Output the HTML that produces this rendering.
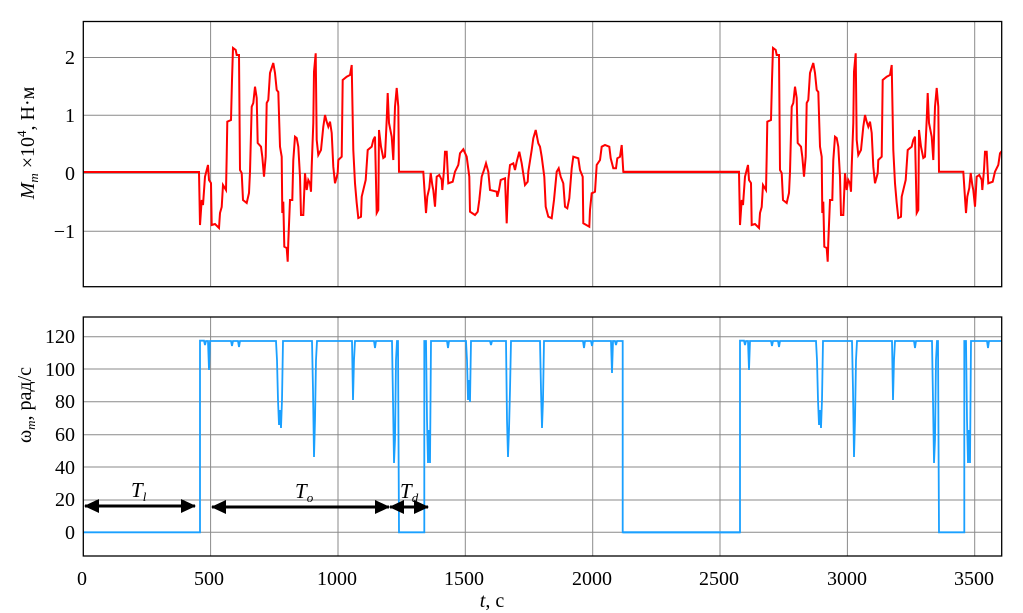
<!DOCTYPE html>
<html><head><meta charset="utf-8"><style>
html,body{margin:0;padding:0;background:#fff;}
svg{display:block;font-family:"Liberation Serif",serif;}
</style></head><body>
<svg width="1023" height="613" viewBox="0 0 1023 613" xmlns="http://www.w3.org/2000/svg">
<defs>
<clipPath id="c1"><rect x="83.3" y="21.5" width="918.4" height="265.2"/></clipPath>
<clipPath id="c2"><rect x="83.3" y="317" width="918.4" height="239"/></clipPath>
<marker id="ah" markerWidth="16" markerHeight="16" refX="14" refY="8" orient="auto-start-reverse" markerUnits="userSpaceOnUse"><path d="M0,1 L15,8 L0,15 z" fill="#000"/></marker>
</defs>
<g stroke="#8a8a8a" stroke-width="1">
<line x1="210.6" y1="21.5" x2="210.6" y2="286.7"/><line x1="338" y1="21.5" x2="338" y2="286.7"/><line x1="465.3" y1="21.5" x2="465.3" y2="286.7"/><line x1="592.7" y1="21.5" x2="592.7" y2="286.7"/><line x1="720" y1="21.5" x2="720" y2="286.7"/><line x1="847.4" y1="21.5" x2="847.4" y2="286.7"/><line x1="974.7" y1="21.5" x2="974.7" y2="286.7"/>
<line x1="83.3" y1="57.5" x2="1001.7" y2="57.5"/><line x1="83.3" y1="115.3" x2="1001.7" y2="115.3"/><line x1="83.3" y1="173.3" x2="1001.7" y2="173.3"/><line x1="83.3" y1="231.3" x2="1001.7" y2="231.3"/>
<line x1="210.6" y1="317" x2="210.6" y2="556"/><line x1="338" y1="317" x2="338" y2="556"/><line x1="465.3" y1="317" x2="465.3" y2="556"/><line x1="592.7" y1="317" x2="592.7" y2="556"/><line x1="720" y1="317" x2="720" y2="556"/><line x1="847.4" y1="317" x2="847.4" y2="556"/><line x1="974.7" y1="317" x2="974.7" y2="556"/>
<line x1="83.3" y1="336.7" x2="1001.7" y2="336.7"/><line x1="83.3" y1="369" x2="1001.7" y2="369"/><line x1="83.3" y1="401.7" x2="1001.7" y2="401.7"/><line x1="83.3" y1="434.7" x2="1001.7" y2="434.7"/><line x1="83.3" y1="467" x2="1001.7" y2="467"/><line x1="83.3" y1="500" x2="1001.7" y2="500"/><line x1="83.3" y1="532.3" x2="1001.7" y2="532.3"/>
</g>
<g clip-path="url(#c1)" fill="none" stroke="#ff0000" stroke-width="2" stroke-linejoin="miter">
<path id="red" d="M83,172 L199,172 200,225 201.7,200 203,205 205,176.7 208,165 209,180 211,183 211.7,225 215,224 219,228 220,213 221.7,207 223,185 226,190 226.7,156.7 227.3,121.7 231,120 232,80 233,48 235.7,50 236.7,55 239,55 240,170 241.7,173 243,200 246.7,203 249,193 250,171.7 251.7,106.7 253.3,103 255,86.7 256.7,98 257.7,143 261,146.7 262.3,156.7 264,176.7 265.7,156.7 266.7,103 268.3,100 270,73 273.3,63 275,73 276.7,90 278.3,92 280,146.7 281.7,156.7 282.3,213 283.3,201.7 284.3,246.7 286.7,248 287.7,261.7 288.3,241.7 290,200 292.3,200 293.3,160 295,136.7 296.7,138 298.3,146.7 300,176.7 301,215 303.3,215 305,173.3 306.7,190 308.3,180 310,183.3 311,191.7 311.7,166.7 313.3,123 314,71.7 315.7,53.3 316.7,140 318.3,155 321,150 323.3,126.7 325,115 326.7,121.7 328.3,126.7 330,121.7 331.7,133 333.3,166.7 335,183.3 337.7,173.3 338.3,160 341.7,156.7 342.7,80 346.7,76.7 350,75 351.7,65 353.3,150 355,183.3 356.7,203 358.3,218 361,216.7 361.7,196.7 365.7,180 367.7,150 371.7,146.7 373.3,140 375,136.7 376.7,213 378.3,210 379,130 381,146.7 383.3,158 385,156.7 386.7,120 387.7,93 389,123 391.7,136.7 393.3,160 395,106.7 396.7,88 398.3,106.7 399,171.7 423.3,171.7 425,198 426,213 427.3,196.7 429.3,188 430.7,173 432.3,185 433.3,190 435,206.7 436.7,176.7 439.3,175 441.7,180 442.3,190 444,170 445,151.7 446.7,151.7 448.3,183.3 452.7,181.7 455,171.7 458.3,165 460,153.3 463.3,149.3 466.7,156.7 469.3,176.7 470,211.7 475,215 477.7,211.7 479.3,200 481.7,176.7 484,170 486,163.3 488.3,171.7 490,190 496.7,191.7 497.3,196.7 499,190 500.7,180 505,178.3 506.7,223.3 508.3,180 510,165 513.3,163.3 515,170 516.7,161.7 519.3,151.7 521.7,163.3 525,185 527.7,181.7 528.3,171.7 531.7,150 533.3,138.3 535.7,130 538.3,143.3 540,146.7 541.7,156.7 544.3,176.7 545.7,206.7 548.3,216.7 551.7,218.3 554,200 556.7,171.7 558.7,168.3 560.7,176.7 563.3,183.3 565,206.7 567.3,208.3 569.3,198.3 571.7,168.3 573.3,156.7 578.3,158.3 580,170 582.7,176.7 583.3,223.3 589.3,226.7 590,210 591.7,193.3 595,191.7 596.7,165 600,160 601.7,146.7 605,145 609.3,146.7 610.7,158.3 613.3,168.3 616,168.3 617.3,158.3 620,156.7 621.7,145 623.3,171.7 740,171.7"/>
<use href="#red" transform="translate(540,0)"/>
</g>
<g clip-path="url(#c2)" fill="none" stroke="#1aa0ff" stroke-width="1.8">
<path id="blue" d="M83,532.3 L200,532.3 200,340.7 204,340.7 205,345 206,341 208,341 209,370 210,341 231,341 232,346 233,341 238,341 239,347 240,341 276,341 277,360 278,400 279,425 280,410 281,428 282,400 283,341 312,341 313,390 314,457 315,420 316,360 317,341 352,341 353,400 354,360 355,341 374,341 375,348 376,341 392,341 393,400 394,463 395,440 396,360 397,341 398,341 399,532.3 424.3,532.3 424.3,341 426,341 427,420 428,463 429,430 430,463 431,341 447,341 448,348 449,341 466,341 467,360 468,400 469,380 470,402 471,341 490,341 491,345 492,341 506,341 507,420 508,457 509,430 510,390 511,341 540,341 541,390 542,428 543,400 544,341 583,341 584,348 585,341 591,341 592,346 593,341 611,341 612,373 613,341 615,341 616,345 617,341 622.7,341 622.7,532.3 740,532.3"/>
<use href="#blue" transform="translate(540,0)"/>
</g>
<rect x="83.3" y="21.5" width="918.4" height="265.2" fill="none" stroke="#000" stroke-width="1.3"/>
<rect x="83.3" y="317" width="918.4" height="239" fill="none" stroke="#000" stroke-width="1.3"/>
<g font-size="20" text-anchor="end" fill="#000">
<text x="75" y="64">2</text><text x="75" y="122">1</text><text x="75" y="180">0</text><text x="75" y="238">−1</text>
<text x="75" y="343">120</text><text x="75" y="376">100</text><text x="75" y="408">80</text><text x="75" y="441">60</text><text x="75" y="474">40</text><text x="75" y="506">20</text><text x="75" y="539">0</text>
</g>
<g font-size="20" text-anchor="middle" fill="#000">
<text x="82" y="585">0</text><text x="209" y="585">500</text><text x="337" y="585">1000</text><text x="464" y="585">1500</text><text x="592" y="585">2000</text><text x="719" y="585">2500</text><text x="847" y="585">3000</text><text x="974" y="585">3500</text>
<text x="492" y="607"><tspan font-style="italic">t</tspan>, с</text>
</g>
<text transform="translate(34,143) rotate(-90)" font-size="20" text-anchor="middle"><tspan font-style="italic">M</tspan><tspan font-style="italic" font-size="13" dy="4">m</tspan><tspan dy="-4"> ×10</tspan><tspan font-size="13" dy="-8">4</tspan><tspan dy="8">, Н·м</tspan></text>
<text transform="translate(31,405) rotate(-90)" font-size="20" text-anchor="middle">ω<tspan font-style="italic" font-size="13" dy="4">m</tspan><tspan dy="-4">, рад/с</tspan></text>
<g stroke="#000" stroke-width="3" fill="none">
<line x1="85" y1="506" x2="195" y2="506" marker-start="url(#ah)" marker-end="url(#ah)"/>
<line x1="212" y1="507" x2="389" y2="507" marker-start="url(#ah)" marker-end="url(#ah)"/>
<line x1="390" y1="507" x2="428" y2="507" marker-start="url(#ah)" marker-end="url(#ah)"/>
</g>
<g font-size="21" font-style="italic">
<text x="131" y="497">T<tspan font-size="13" dy="4">l</tspan></text>
<text x="295" y="498">T<tspan font-size="13" dy="4">o</tspan></text>
<text x="400" y="498">T<tspan font-size="13" dy="4">d</tspan></text>
</g>
</svg>
</body></html>
